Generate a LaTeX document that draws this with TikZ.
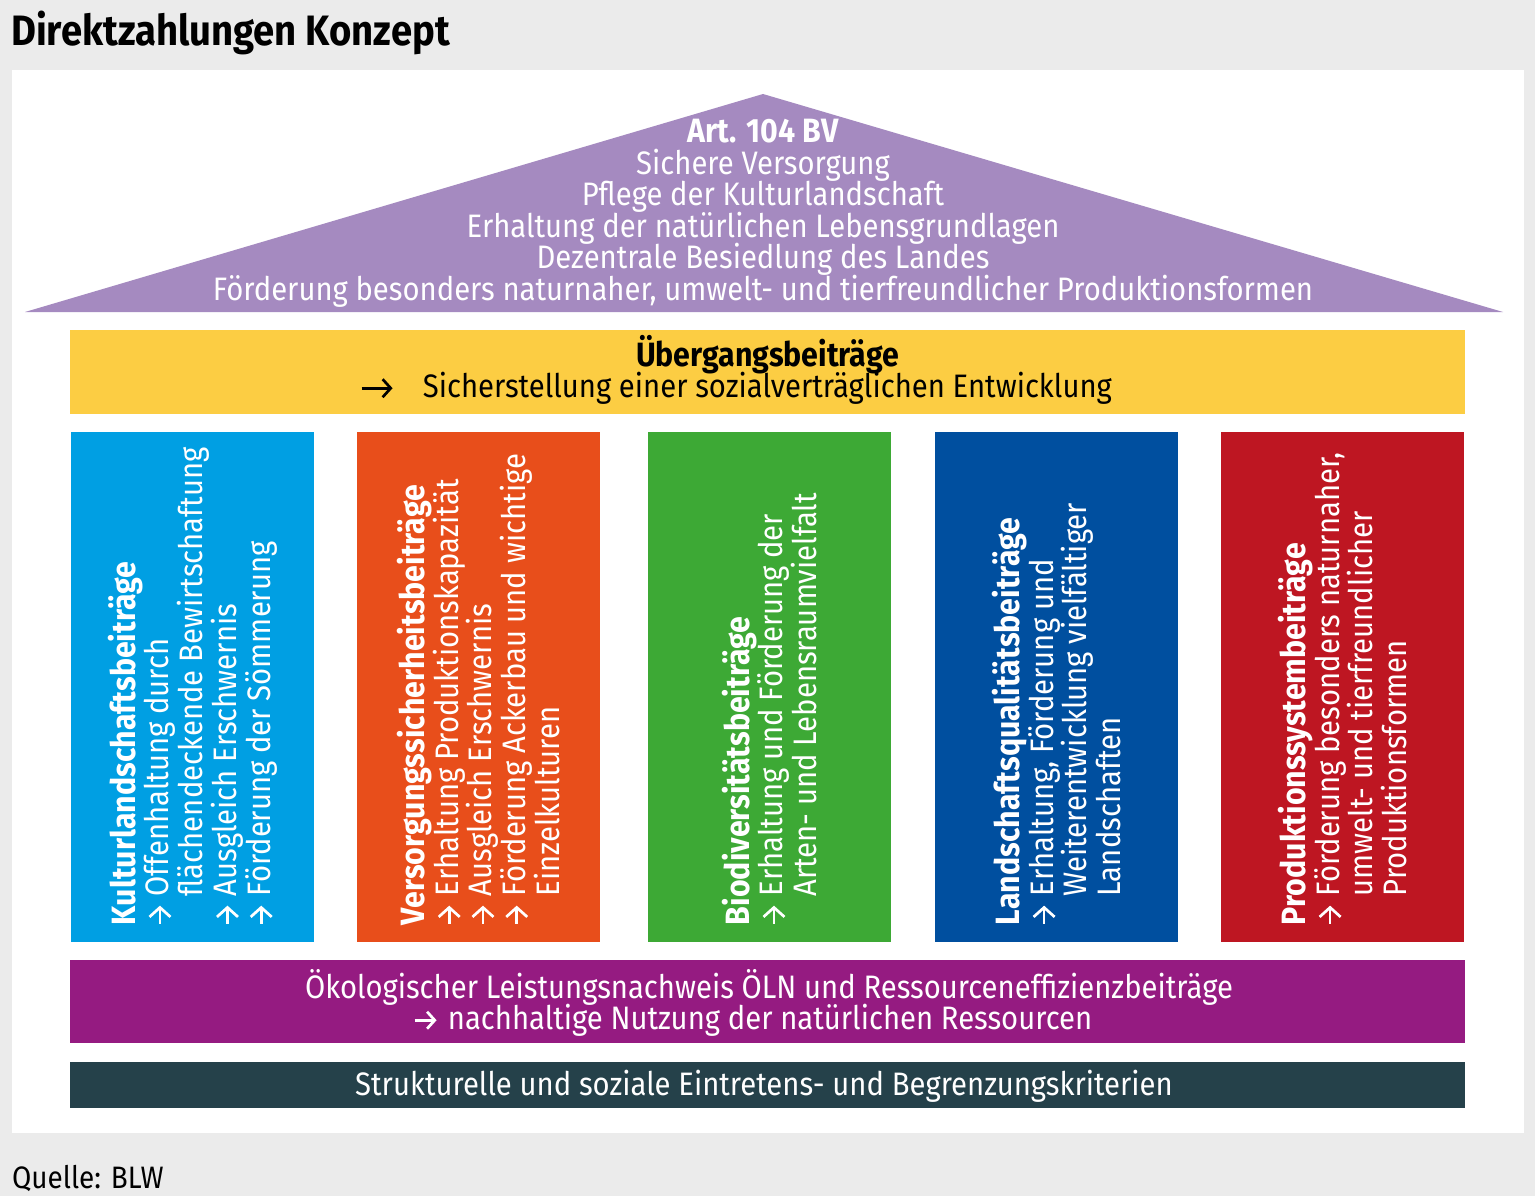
\documentclass[tikz,border=0pt]{standalone}
\usepackage{fontspec}
\setmainfont{Fira Sans}[FakeStretch=0.9]
\usetikzlibrary{arrows.meta}

\definecolor{bgGray}{HTML}{EBEBEB}
\definecolor{roofLila}{HTML}{A58AC0}
\definecolor{bandGelb}{HTML}{FCCD43}
\definecolor{colKultur}{HTML}{009FE3}
\definecolor{colVersorg}{HTML}{E84E1B}
\definecolor{colBio}{HTML}{3DA935}
\definecolor{colLand}{HTML}{004F9F}
\definecolor{colProd}{HTML}{BE1622}
\definecolor{bandOeln}{HTML}{951B81}
\definecolor{bandStruk}{HTML}{25414A}

% Pfeil im Text: Laenge, Spitzenbreite
\newcommand{\pfeil}[2]{\tikz[baseline=-9pt]\draw[line width=2.7pt,-{Straight Barb[length=0.45*#2,width=#2]}] (0pt,0pt) -- (#1,0pt);}
\newcommand{\pf}{\pfeil{18pt}{21pt}\hspace{8pt}}
\newcommand{\ein}{\hphantom{\pf}}
\newcommand{\kopf}[1]{{\bfseries\fontsize{33.7}{33.5}\selectfont #1}}
\newcommand{\dicht}{\setlength{\lineskiplimit}{-100pt}}

\begin{document}
\begin{tikzpicture}[x=1pt, y=-1pt,
    band/.style={fill=#1, draw=none, minimum width=1395pt, inner sep=0pt},
    pillar/.style={fill=#1, draw=none, minimum width=243pt, minimum height=510pt, inner sep=0pt},
    txt/.style={inner sep=0pt, font=\fontsize{32.5}{31.5}\selectfont\dicht},
    pillartxt/.style={txt, text=white, rotate=90, anchor=west, align=left,
        font=\fontsize{32.5}{33.75}\selectfont\dicht}]
    \useasboundingbox (0,0) rectangle (1535,1196);
    \fill[bgGray] (0,0) rectangle (1535,1196);
    \fill[white] (12,70) rectangle (1524,1133);

    \node[txt, anchor=base west, font=\bfseries\fontsize{42.5}{44}\selectfont] (titel) at (11,46) {Direktzahlungen Konzept};
    \node[txt, anchor=base west, font=\fontsize{31}{36}\selectfont] (quelle) at (12,1188) {Quelle: BLW};

    % Dach
    \fill[roofLila] (763,94) -- (1503,312) -- (25,312) -- cycle;
    \node[txt, text=white, align=center] (art) at (763,213.5)
        {\kopf{Art. 104 BV}\\ Sichere Versorgung\\ Pflege der Kulturlandschaft\\
         Erhaltung der natürlichen Lebensgrundlagen\\ Dezentrale Besiedlung des Landes\\
         Förderung besonders naturnaher, umwelt- und tierfreundlicher Produktionsformen};

    % Uebergang
    \node[band=bandGelb, minimum height=84pt] (ueb) at (767.5,371.5) {};
    \node[txt] (uebtitel) at (767.5,355) {\kopf{Übergangsbeiträge}};
    \node[txt, anchor=west] (uebziel) at (360,388) {\pfeil{31pt}{18pt}\hspace{29pt}Sicherstellung einer sozialverträglichen Entwicklung};

    % Saeulen
    \node[pillar=colKultur] (kult) at (192.5,687) {};
    \node[pillar=colVersorg] (vers) at (478.5,687) {};
    \node[pillar=colBio] (bio) at (769.5,687) {};
    \node[pillar=colLand] (land) at (1056.5,687) {};
    \node[pillar=colProd] (prod) at (1342.5,687) {};

    \node[pillartxt] (kulttxt) at ([yshift=17pt]kult.south)
        {\kopf{Kulturlandschaftsbeiträge}\\ \pf Offenhaltung durch\\
         \ein flächendeckende Bewirtschaftung\\ \pf Ausgleich Erschwernis\\ \pf Förderung der Sömmerung};
    \node[pillartxt] (verstxt) at ([yshift=17pt]vers.south)
        {\kopf{Versorgungssicherheitsbeiträge}\\ \pf Erhaltung Produktionskapazität\\
         \pf Ausgleich Erschwernis\\ \pf Förderung Ackerbau und wichtige\\ \ein Einzelkulturen};
    \node[pillartxt] (biotxt) at ([yshift=17pt]bio.south)
        {\kopf{Biodiversitätsbeiträge}\\ \pf Erhaltung und Förderung der\\ \ein Arten- und Lebensraumvielfalt};
    \node[pillartxt] (landtxt) at ([yshift=17pt]land.south)
        {\kopf{Landschaftsqualitätsbeiträge}\\ \pf Erhaltung, Förderung und\\
         \ein Weiterentwicklung vielfältiger\\ \ein Landschaften};
    \node[pillartxt] (prodtxt) at ([yshift=17pt]prod.south)
        {\kopf{Produktionssystembeiträge}\\ \pf Förderung besonders naturnaher,\\
         \ein umwelt- und tierfreundlicher\\ \ein Produktionsformen};

    % Fundament
    \node[band=bandOeln, minimum height=83pt] (oeln) at (767.5,1001.5) {};
    \node[txt, text=white] (oelntitel) at (769,987) {Ökologischer Leistungsnachweis ÖLN und Ressourceneffizienzbeiträge};
    \node[txt, text=white, anchor=west] (oelnziel) at (413,1020) {\pfeil{22pt}{17pt}\hspace{10pt}nachhaltige Nutzung der natürlichen Ressourcen};
    \node[band=bandStruk, minimum height=46pt] (struk) at (767.5,1085) {};
    \node[txt, text=white] (struktxt) at (764,1086) {Strukturelle und soziale Eintretens- und Begrenzungskriterien};
\end{tikzpicture}
\end{document}
